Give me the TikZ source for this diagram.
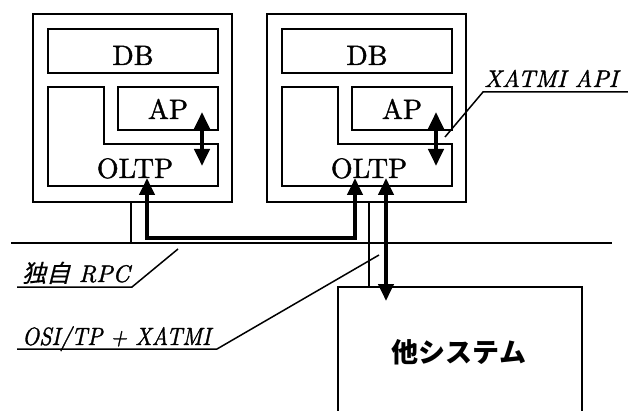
\documentclass[tikz,border=0pt]{standalone}
\usepackage{fontspec}
\usetikzlibrary{arrows.meta}
% fixed 10pt design of Latin Modern at every size, slightly emboldened
\setmainfont{lmroman10-regular.otf}[FakeBold=1.3, ItalicFont=lmroman10-italic.otf, BoldFont=lmroman10-bold.otf]
\newfontfamily\jpfont{Noto Sans CJK JP}
\newfontfamily\jpslant[FakeSlant=0.25, FakeBold=0.6]{Noto Sans CJK JP}
\tikzset{
  frame/.style={draw, line width=1.7pt},
  thinline/.style={line width=1.5pt},
  flow/.style={line width=4pt, {Triangle[width=15pt,length=17pt]}-{Triangle[width=15pt,length=17pt]}},
  boxlabel/.style={font=\fontsize{28}{28}\selectfont, anchor=base, inner sep=0pt},
  callout/.style={font=\fontsize{24}{24}\selectfont\itshape, anchor=base west, inner sep=0pt},
}
\begin{document}
\begin{tikzpicture}[x=1pt, y=-1pt]
\useasboundingbox (0,0) rectangle (628,411);

% two host systems, each with DB, AP and the L-shaped OLTP layer
\foreach \s/\dx in {L/0, R/234} {
  \begin{scope}[xshift=\dx pt]
    \draw[frame] (33,14) rectangle (232,202);
    \draw[frame] (48,29) rectangle (218,73);
    \node[boxlabel] (db\s) at (133,65) {DB};
    \draw[frame] (118,87) rectangle (218,130);
    \node[boxlabel] (ap\s) at (168,119) {AP};
    \draw[frame] (48,87) -- (104,87) -- (104,144) -- (218,144) -- (218,186) -- (48,186) -- cycle;
    \node[boxlabel] (oltp\s) at (135,178) {OLTP};
    \coordinate (api\s) at (202,112);
    \coordinate (oli\s) at (202,166);
    \draw[flow] (api\s) -- (oli\s);
  \end{scope}
}

% network bus and the short drops onto it
\coordinate (busW) at (11,243);
\coordinate (busE) at (612,243);
\draw[thinline] (busW) -- (busE);
\coordinate (dropL1) at (131,202);
\coordinate (dropL2) at (131,243);
\draw[thinline] (dropL1) -- (dropL2);
\coordinate (dropR1) at (369,202);
\coordinate (dropR2) at (369,287);
\draw[thinline] (dropR1) -- (dropR2);

% other system
\draw[frame] (338,411) -- (338,287) -- (582,287) -- (582,411);
\node[font=\fontsize{27}{27}\selectfont\jpfont\bfseries] (other) at (459,352) {他システム};

% proprietary RPC between the two OLTPs
\coordinate (rpcA) at (147,178);
\coordinate (rpcB) at (355,178);
\draw[flow] (rpcA) -- (147,238) -- (355,238) -- (rpcB);

% OSI/TP link to the other system
\coordinate (osiA) at (386,178);
\coordinate (osiB) at (386,301);
\draw[flow] (osiA) -- (osiB);

% callouts
\node[callout] (xapi) at (484,87) {XATMI API};
\coordinate (xapiEnd) at (445,137);
\draw[thinline] (628,92) -- (483,92) -- (xapiEnd);

\node[callout] (rpc) at (22,282) {{\jpslant 独自} RPC};
\coordinate (rpcEnd) at (178,249);
\draw[thinline] (17,287) -- (132,287) -- (rpcEnd);

\node[callout, font=\fontsize{25}{25}\selectfont\itshape, xscale=0.886] (osi) at (22,345) {OSI/TP + XATMI};
\coordinate (osiEnd) at (379,255);
\draw[thinline] (17,349) -- (217,349) -- (osiEnd);
\end{tikzpicture}
\end{document}
